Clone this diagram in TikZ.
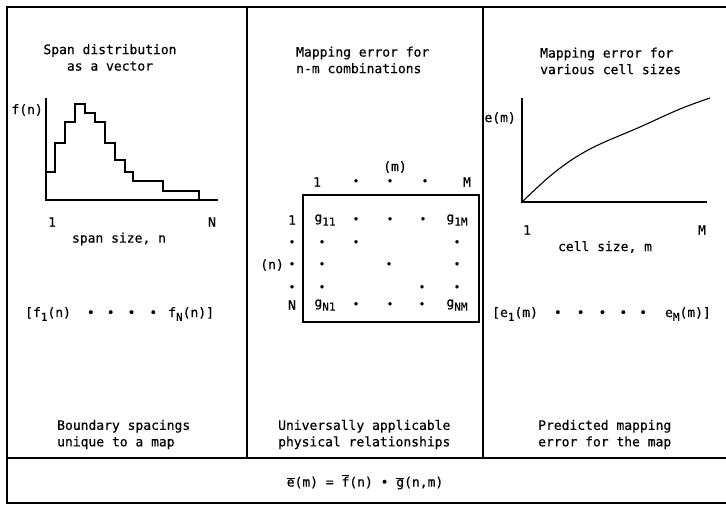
\documentclass[tikz,border=0pt]{standalone}
\usepackage{fontspec}
\setmainfont[FakeBold=0.5]{DejaVu Sans Mono}
\usepackage{tikz}
\usetikzlibrary{positioning}
\newcommand\subix[1]{\raisebox{-0.55ex}{\fontsize{11}{11}\selectfont #1}}
\newcommand\ovl[1]{$\overline{\mbox{#1}}$}
\tikzset{
  txt/.style={inner sep=0pt, font=\fontsize{13}{16.5}\selectfont},
  ttl/.style={txt, align=left, anchor=west},
  dotm/.style={txt, font=\fontsize{11}{11}\selectfont},
  frame/.style={line width=1.4pt},
  axis/.style={line width=1.2pt},
  crv/.style={line width=1.1pt},
}
\begin{document}
\begin{tikzpicture}[x=1pt, y=-1pt]
  \useasboundingbox (0,0) rectangle (726,505);
  % frame
  \draw[frame] (726,7) -- (7,7) -- (7,503) -- (726,503);
  \draw[frame] (7,458) -- (726,458);
  \draw[frame] (247,7) -- (247,458);
  \draw[frame] (483,7) -- (483,458);
  % left panel
  \node[txt, align=center] (spanttl) at (110,57.5) {Span distribution\\as a vector};
  \draw[axis] (46,98) -- (46,200) -- (218,200);
  \draw[crv] (46,172) -- (55,172) -- (55,143) -- (65,143) -- (65,122) -- (75,122)
    -- (75,104) -- (85,104) -- (85,113) -- (95,113) -- (95,122) -- (105,122)
    -- (105,143) -- (115,143) -- (115,160) -- (125,160) -- (125,172) -- (133,172)
    -- (133,181) -- (163,181) -- (163,191) -- (199,191) -- (199,200);
  \node[txt, anchor=east] (fn) at (43,110) {f(n)};
  \node[txt] (n1) at (52,222) {1};
  \node[txt] (nN) at (212,222) {N};
  \node[txt] (spanx) at (119,239) {span size, n};
  \node[ttl] (fvec) at (25,314) {[f\subix{1}(n)\hspace{16pt}•\hspace{12pt}•\hspace{13pt}•\hspace{14pt}•\hspace{11pt}f\subix{N}(n)]};
  \node[ttl] (bndry) at (57,434.5) {Boundary spacings\\unique to a map};
  % middle panel
  \node[ttl] (mapttl) at (296,60) {Mapping error for\\n-m combinations};
  \node[txt] (mlbl) at (395,167) {(m)};
  \node[txt] (c1) at (317,182) {1};
  \node[dotm] (c2) at (356,182) {•};
  \node[dotm] (c3) at (390,182) {•};
  \node[dotm] (c4) at (425,182) {•};
  \node[txt] (cM) at (467,182) {M};
  \node[txt] (r1) at (292,220) {1};
  \node[dotm] (r2) at (292,243) {•};
  \node[dotm] (r3) at (292,265) {•};
  \node[txt, anchor=east] (nlbl) at (284,265) {(n)};
  \node[dotm] (r4) at (292,288) {•};
  \node[txt] (rN) at (292,305) {N};
  \draw[axis] (303,195) rectangle (479,322);
  \node[txt] (g11) at (325,220) {g\subix{11}};
  \node[dotm] (d12) at (356,220) {•};
  \node[dotm] (d13) at (390,220) {•};
  \node[dotm] (d14) at (423,220) {•};
  \node[txt] (g1M) at (457,220) {g\subix{1M}};
  \node[dotm] (d21) at (322,243) {•};
  \node[dotm] (d22) at (356,243) {•};
  \node[dotm] (d25) at (457,243) {•};
  \node[dotm] (d31) at (322,265) {•};
  \node[dotm] (d33) at (389,265) {•};
  \node[dotm] (d35) at (457,265) {•};
  \node[dotm] (d41) at (322,288) {•};
  \node[dotm] (d44) at (422,288) {•};
  \node[dotm] (d45) at (457,288) {•};
  \node[txt] (gN1) at (325,305) {g\subix{N1}};
  \node[dotm] (d52) at (356,305) {•};
  \node[dotm] (d53) at (390,305) {•};
  \node[dotm] (d54) at (422,305) {•};
  \node[txt] (gNM) at (457,305) {g\subix{NM}};
  \node[ttl] (univ) at (278,434.5) {Universally applicable\\physical relationships};
  % right panel
  \node[ttl] (cellttl) at (540,61) {Mapping error for\\various cell sizes};
  \draw[axis] (522,98) -- (522,202) -- (707,202);
  \draw[crv] plot[smooth, tension=0.6] coordinates {(522,202) (555,172) (590,149) (640,127) (680,109) (710,98)};
  \node[txt, anchor=east] (em) at (516,118) {e(m)};
  \node[txt] (m1) at (527,230) {1};
  \node[txt] (mM) at (702,230) {M};
  \node[txt] (cellx) at (605,247) {cell size, m};
  \node[ttl] (evec) at (492,314) {[e\subix{1}(m)\hspace{16pt}•\hspace{15pt}•\hspace{14pt}•\hspace{13pt}•\hspace{12pt}•\hspace{18pt}e\subix{M}(m)]};
  \node[ttl] (pred) at (538,434.5) {Predicted mapping\\error for the map};
  % bottom row
  \node[txt] (eqn) at (365,482) {\ovl{e}(m) = \ovl{f}(n) • \ovl{g}(n,m)};
\end{tikzpicture}
\end{document}
